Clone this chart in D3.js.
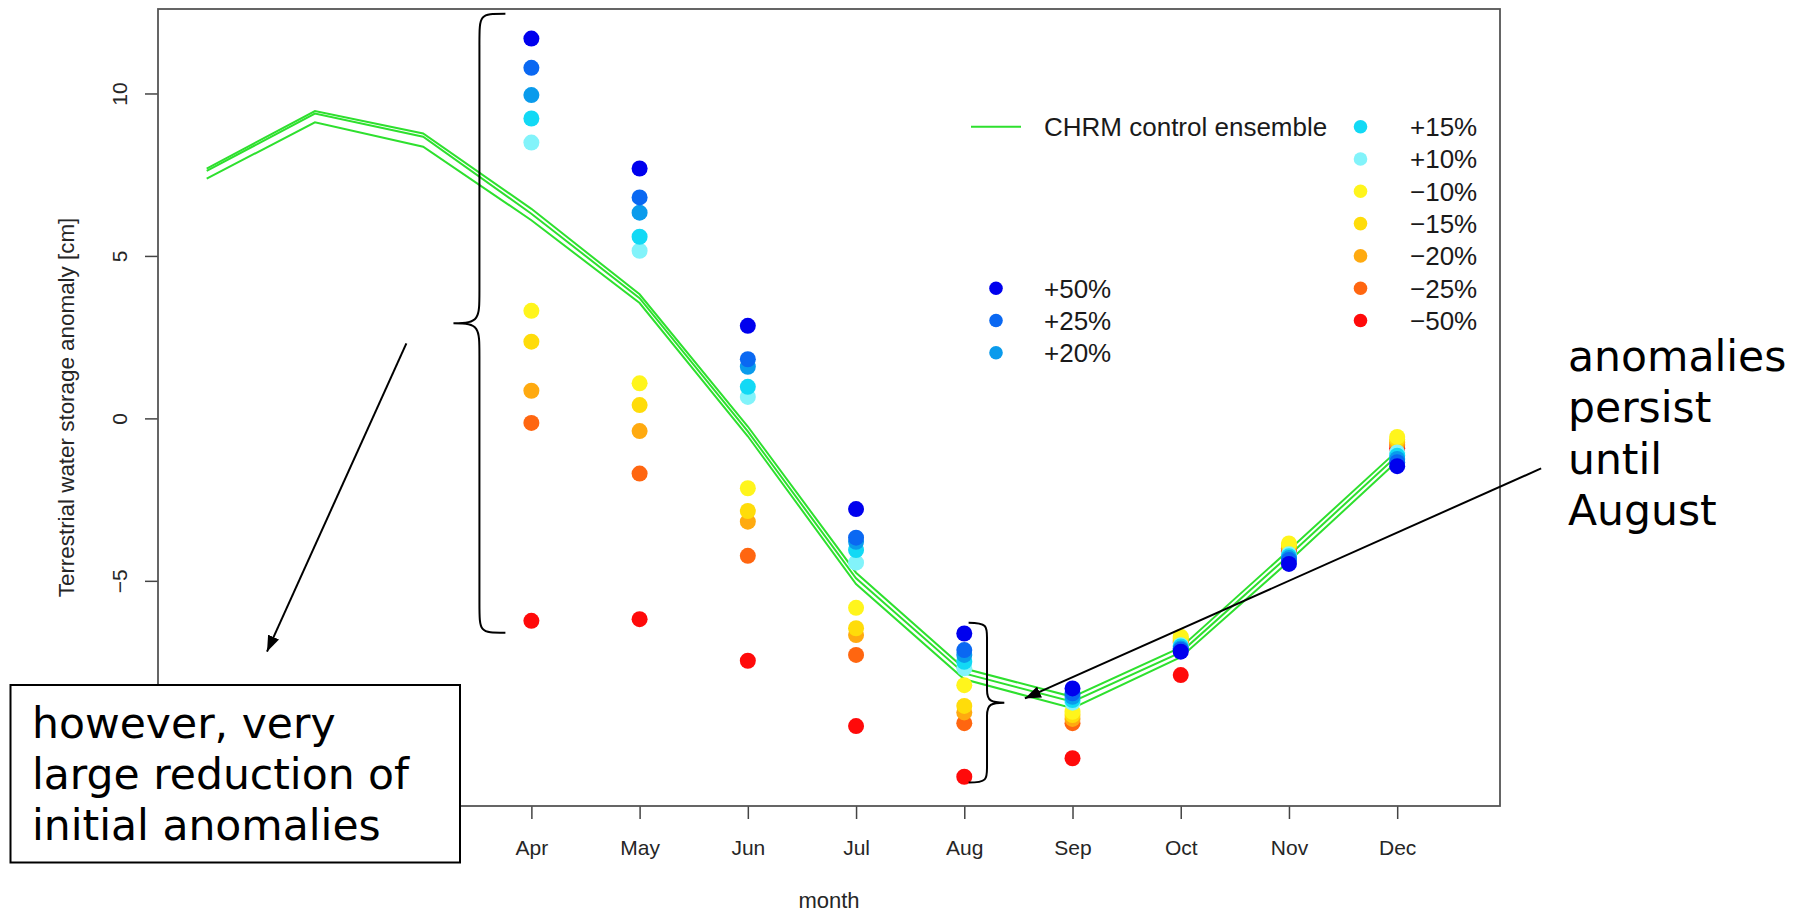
<!DOCTYPE html>
<html>
<head>
<meta charset="utf-8">
<script src="https://cdn.jsdelivr.net/npm/d3@7"></script>
<style>
  body { margin: 0; background: #fff; }
  svg { display: block; }
</style>
</head>
<body>
<div id="chart"></div>
<script>
// month axis
const monthNames = ['Jan', 'Feb', 'Mar', 'Apr', 'May', 'Jun', 'Jul', 'Aug', 'Sep', 'Oct', 'Nov', 'Dec']
const monthIndex = [1, 2, 3, 4, 5, 6, 7, 8, 9, 10, 11, 12]
// Jan-Mar and -10 sit under the note box in the original, so they carry no label
const labelledMonths = [4, 5, 6, 7, 8, 9, 10, 11, 12]
const yTicks = [-5, 0, 5, 10]

// CHRM control ensemble members (Jan..Dec)
const ensemble1 = [7.69, 9.46, 8.77, 6.45, 3.82, -0.25, -4.75, -7.7, -8.57, -7.05, -4.05, -1.0]
const ensemble2 = [7.62, 9.38, 8.67, 6.3, 3.7, -0.4, -4.92, -7.85, -8.72, -7.2, -4.22, -1.15]
const ensemble3 = [7.38, 9.11, 8.36, 6.1, 3.55, -0.55, -5.1, -8.03, -8.92, -7.35, -4.4, -1.32]

// perturbed initial conditions, Apr..Dec
const scenarioMonths = [4, 5, 6, 7, 8, 9, 10, 11, 12]
const plus50 = [11.69, 7.69, 2.85, -2.79, -6.62, -8.31, -7.18, -4.48, -1.47]
const plus25 = [10.79, 6.8, 1.82, -3.67, -7.13, -8.46, -7.12, -4.36, -1.35]
const plus20 = [9.95, 6.33, 1.59, -3.8, -7.28, -8.57, -7.08, -4.3, -1.25]
const plus15 = [9.23, 5.59, 0.97, -4.05, -7.49, -8.67, -7.02, -4.24, -1.15]
const plus10 = [8.49, 5.16, 0.66, -4.44, -7.69, -8.75, -6.98, -4.18, -1.05]
const minus10 = [3.31, 1.08, -2.15, -5.83, -8.21, -9.03, -6.72, -3.85, -0.57]
const minus15 = [2.36, 0.41, -2.85, -6.46, -8.85, -9.13, -6.78, -3.9, -0.65]
const minus20 = [0.85, -0.39, -3.18, -6.67, -9.05, -9.25, -6.85, -3.95, -0.75]
const minus25 = [-0.14, -1.7, -4.23, -7.28, -9.38, -9.38, -6.9, -4.0, -0.82]
const minus50 = [-6.23, -6.18, -7.46, -9.47, -11.03, -10.46, -7.9, -4.1, -0.92]

const scenarioLabels = ['+50%', '+25%', '+20%', '+15%', '+10%', '\u221210%', '\u221215%', '\u221220%', '\u221225%', '\u221250%']
const scenarioColors = ['#0000ee', '#0a68f2', '#0a9bec', '#12d9f5', '#82f3fa', '#fff51c', '#ffdc0a', '#ffaa10', '#ff6610', '#ff0a0a']

const margin = { top: 9, left: 158, right: 298, bottom: 108 }
const width = 1798 - margin.left - margin.right
const height = 914 - margin.top - margin.bottom

const svg = d3
  .select('#chart')
  .append('svg')
  .attr('width', 1798)
  .attr('height', 914)
  .style('font-family', '"Liberation Sans", Arial, sans-serif')

svg
  .append('defs')
  .append('marker')
  .attr('id', 'head')
  .attr('viewBox', '0 0 16 12')
  .attr('markerUnits', 'userSpaceOnUse')
  .attr('markerWidth', 16)
  .attr('markerHeight', 12)
  .attr('refX', 16)
  .attr('refY', 6)
  .attr('orient', 'auto')
  .append('path')
  .attr('d', 'M0,0 L16,6 L0,12 Z')
  .attr('fill', '#000')

const g = svg.append('g').attr('transform', `translate(${margin.left},${margin.top})`)

const x = d3.scaleLinear().domain([0.55, 12.95]).range([0, width])
const y = d3.scaleLinear().domain([-11.93, 12.6]).range([height, 0])

// axes
const xAxis = g
  .append('g')
  .attr('transform', `translate(0,${height})`)
  .call(
    d3.axisBottom(x)
      .tickValues(labelledMonths)
      .tickFormat(d => monthNames[d - 1])
      .tickSize(13)
      .tickSizeOuter(0)
  )
xAxis.select('.domain').remove()
xAxis.selectAll('line').attr('stroke', '#444').attr('stroke-width', 1.5)
xAxis
  .selectAll('text')
  .attr('y', 49)
  .attr('dy', 0)
  .attr('fill', '#262626')
  .style('font-size', '21px')
  .style('font-family', '"Liberation Sans", Arial, sans-serif')

const yAxis = g
  .append('g')
  .call(d3.axisLeft(y).tickValues(yTicks).tickFormat(d => (d < 0 ? '\u2212' + -d : d)).tickSize(13).tickSizeOuter(0))
yAxis.select('.domain').remove()
yAxis.selectAll('line').attr('stroke', '#444').attr('stroke-width', 1.5)
yAxis
  .selectAll('text')
  .attr('transform', 'rotate(-90)')
  .attr('x', 0)
  .attr('y', -38)
  .attr('dy', '0.35em')
  .attr('text-anchor', 'middle')
  .attr('fill', '#262626')
  .style('font-size', '21px')
  .style('font-family', '"Liberation Sans", Arial, sans-serif')

// plot frame
g.append('rect')
  .attr('width', width)
  .attr('height', height)
  .attr('fill', 'none')
  .attr('stroke', '#555')
  .attr('stroke-width', 1.8)

// axis titles
svg
  .append('text')
  .text('month')
  .attr('x', margin.left + width / 2)
  .attr('y', 908)
  .attr('text-anchor', 'middle')
  .attr('fill', '#262626')
  .style('font-size', '22px')

svg
  .append('text')
  .text('Terrestrial water storage anomaly [cm]')
  .attr('transform', `translate(66,${margin.top + height / 2}) rotate(-90)`)
  .attr('text-anchor', 'middle')
  .attr('dy', '0.35em')
  .attr('fill', '#262626')
  .style('font-size', '22.4px')

// ensemble lines
const line = d3
  .line()
  .x((d, i) => x(monthIndex[i]))
  .y(d => y(d))

g.selectAll('.ens')
  .data([ensemble1, ensemble2, ensemble3])
  .enter()
  .append('path')
  .attr('class', 'ens')
  .attr('d', line)
  .attr('fill', 'none')
  .attr('stroke', '#2ee02e')
  .attr('stroke-width', 2)

// scenario points, drawn from -50% up to +50%
const scenarios = [plus50, plus25, plus20, plus15, plus10, minus10, minus15, minus20, minus25, minus50]
const points = []
scenarios.forEach((vals, s) => {
  vals.forEach((v, i) => points.push({ s: s, month: scenarioMonths[i], value: v }))
})
points.sort((a, b) => b.s - a.s)

g.selectAll('.pt')
  .data(points)
  .enter()
  .append('circle')
  .attr('class', 'pt')
  .attr('cx', d => x(d.month))
  .attr('cy', d => y(d.value))
  .attr('r', 8)
  .attr('fill', d => scenarioColors[d.s])

// legend
const legend = svg.append('g').style('font-size', '26px').attr('fill', '#1a1a1a')
const rowH = 32.3
const row0 = 126.7

legend
  .append('line')
  .attr('x1', 971)
  .attr('x2', 1021)
  .attr('y1', row0)
  .attr('y2', row0)
  .attr('stroke', '#2ee02e')
  .attr('stroke-width', 2)
legend
  .append('text')
  .text('CHRM control ensemble')
  .attr('x', 1044)
  .attr('y', row0)
  .attr('dy', '0.36em')

const legendItems = scenarioLabels.map((label, i) => {
  const left = i < 3
  return {
    label: label,
    color: scenarioColors[i],
    dotX: left ? 996 : 1360.5,
    textX: left ? 1044 : 1410,
    row: left ? i + 5 : i - 3
  }
})

const item = legend
  .selectAll('.item')
  .data(legendItems)
  .enter()
  .append('g')
  .attr('transform', d => `translate(0,${row0 + d.row * rowH})`)

item
  .append('circle')
  .attr('cx', d => d.dotX)
  .attr('r', 6.8)
  .attr('fill', d => d.color)
item
  .append('text')
  .text(d => d.label)
  .attr('x', d => d.textX)
  .attr('dy', '0.36em')

// annotations
const ann = g.append('g').attr('fill', 'none').attr('stroke', '#000').attr('stroke-width', 2)

function brace(xEnd, xStem, xTip, yTop, yTip, yBot) {
  const c = 22
  return (
    `M${xEnd},${yTop} C${xStem},${yTop} ${xStem},${yTop} ${xStem},${yTop + c * 1.4}` +
    ` L${xStem},${yTip - c * 1.5} C${xStem},${yTip - 4} ${xStem},${yTip} ${xTip},${yTip}` +
    ` C${xStem},${yTip} ${xStem},${yTip + 4} ${xStem},${yTip + c * 1.5}` +
    ` L${xStem},${yBot - c * 1.4} C${xStem},${yBot} ${xStem},${yBot} ${xEnd},${yBot}`
  )
}

ann.append('path').attr('d', brace(x(3.76), x(3.52), x(3.28), y(12.45), y(2.93), y(-6.6)))

ann
  .append('path')
  .attr('d', `M${x(8.04)},${y(-6.29)} C${x(8.21)},${y(-6.29)} ${x(8.21)},${y(-6.4)} ${x(8.21)},${y(-6.75)}` +
    ` L${x(8.21)},${y(-8.35)} C${x(8.21)},${y(-8.7)} ${x(8.25)},${y(-8.75)} ${x(8.37)},${y(-8.75)}` +
    ` C${x(8.25)},${y(-8.75)} ${x(8.21)},${y(-8.8)} ${x(8.21)},${y(-9.15)}` +
    ` L${x(8.21)},${y(-10.75)} C${x(8.21)},${y(-11.1)} ${x(8.21)},${y(-11.21)} ${x(8.04)},${y(-11.21)}`)

ann
  .append('line')
  .attr('x1', x(2.845))
  .attr('y1', y(2.31))
  .attr('x2', x(1.557))
  .attr('y2', y(-7.18))
  .attr('marker-end', 'url(#head)')

ann
  .append('line')
  .attr('x1', x(13.33))
  .attr('y1', y(-1.54))
  .attr('x2', x(8.56))
  .attr('y2', y(-8.62))
  .attr('marker-end', 'url(#head)')

// text box, bottom left
const note = svg.append('g').style('font-family', '"DejaVu Sans", Verdana, sans-serif').style('font-size', '42.5px')
note
  .append('rect')
  .attr('x', 10.5)
  .attr('y', 685)
  .attr('width', 449.5)
  .attr('height', 177.5)
  .attr('fill', '#fff')
  .attr('stroke', '#000')
  .attr('stroke-width', 2)
note
  .selectAll('.l1')
  .data(['however, very', 'large reduction of', 'initial anomalies'])
  .enter()
  .append('text')
  .text(d => d)
  .attr('x', 32)
  .attr('y', (d, i) => 738 + i * 51)
  .attr('fill', '#000')

note
  .selectAll('.l2')
  .data(['anomalies', 'persist', 'until', 'August'])
  .enter()
  .append('text')
  .text(d => d)
  .attr('x', 1568)
  .attr('y', (d, i) => 370.5 + i * 51.5)
  .attr('fill', '#000')
</script>
</body>
</html>
